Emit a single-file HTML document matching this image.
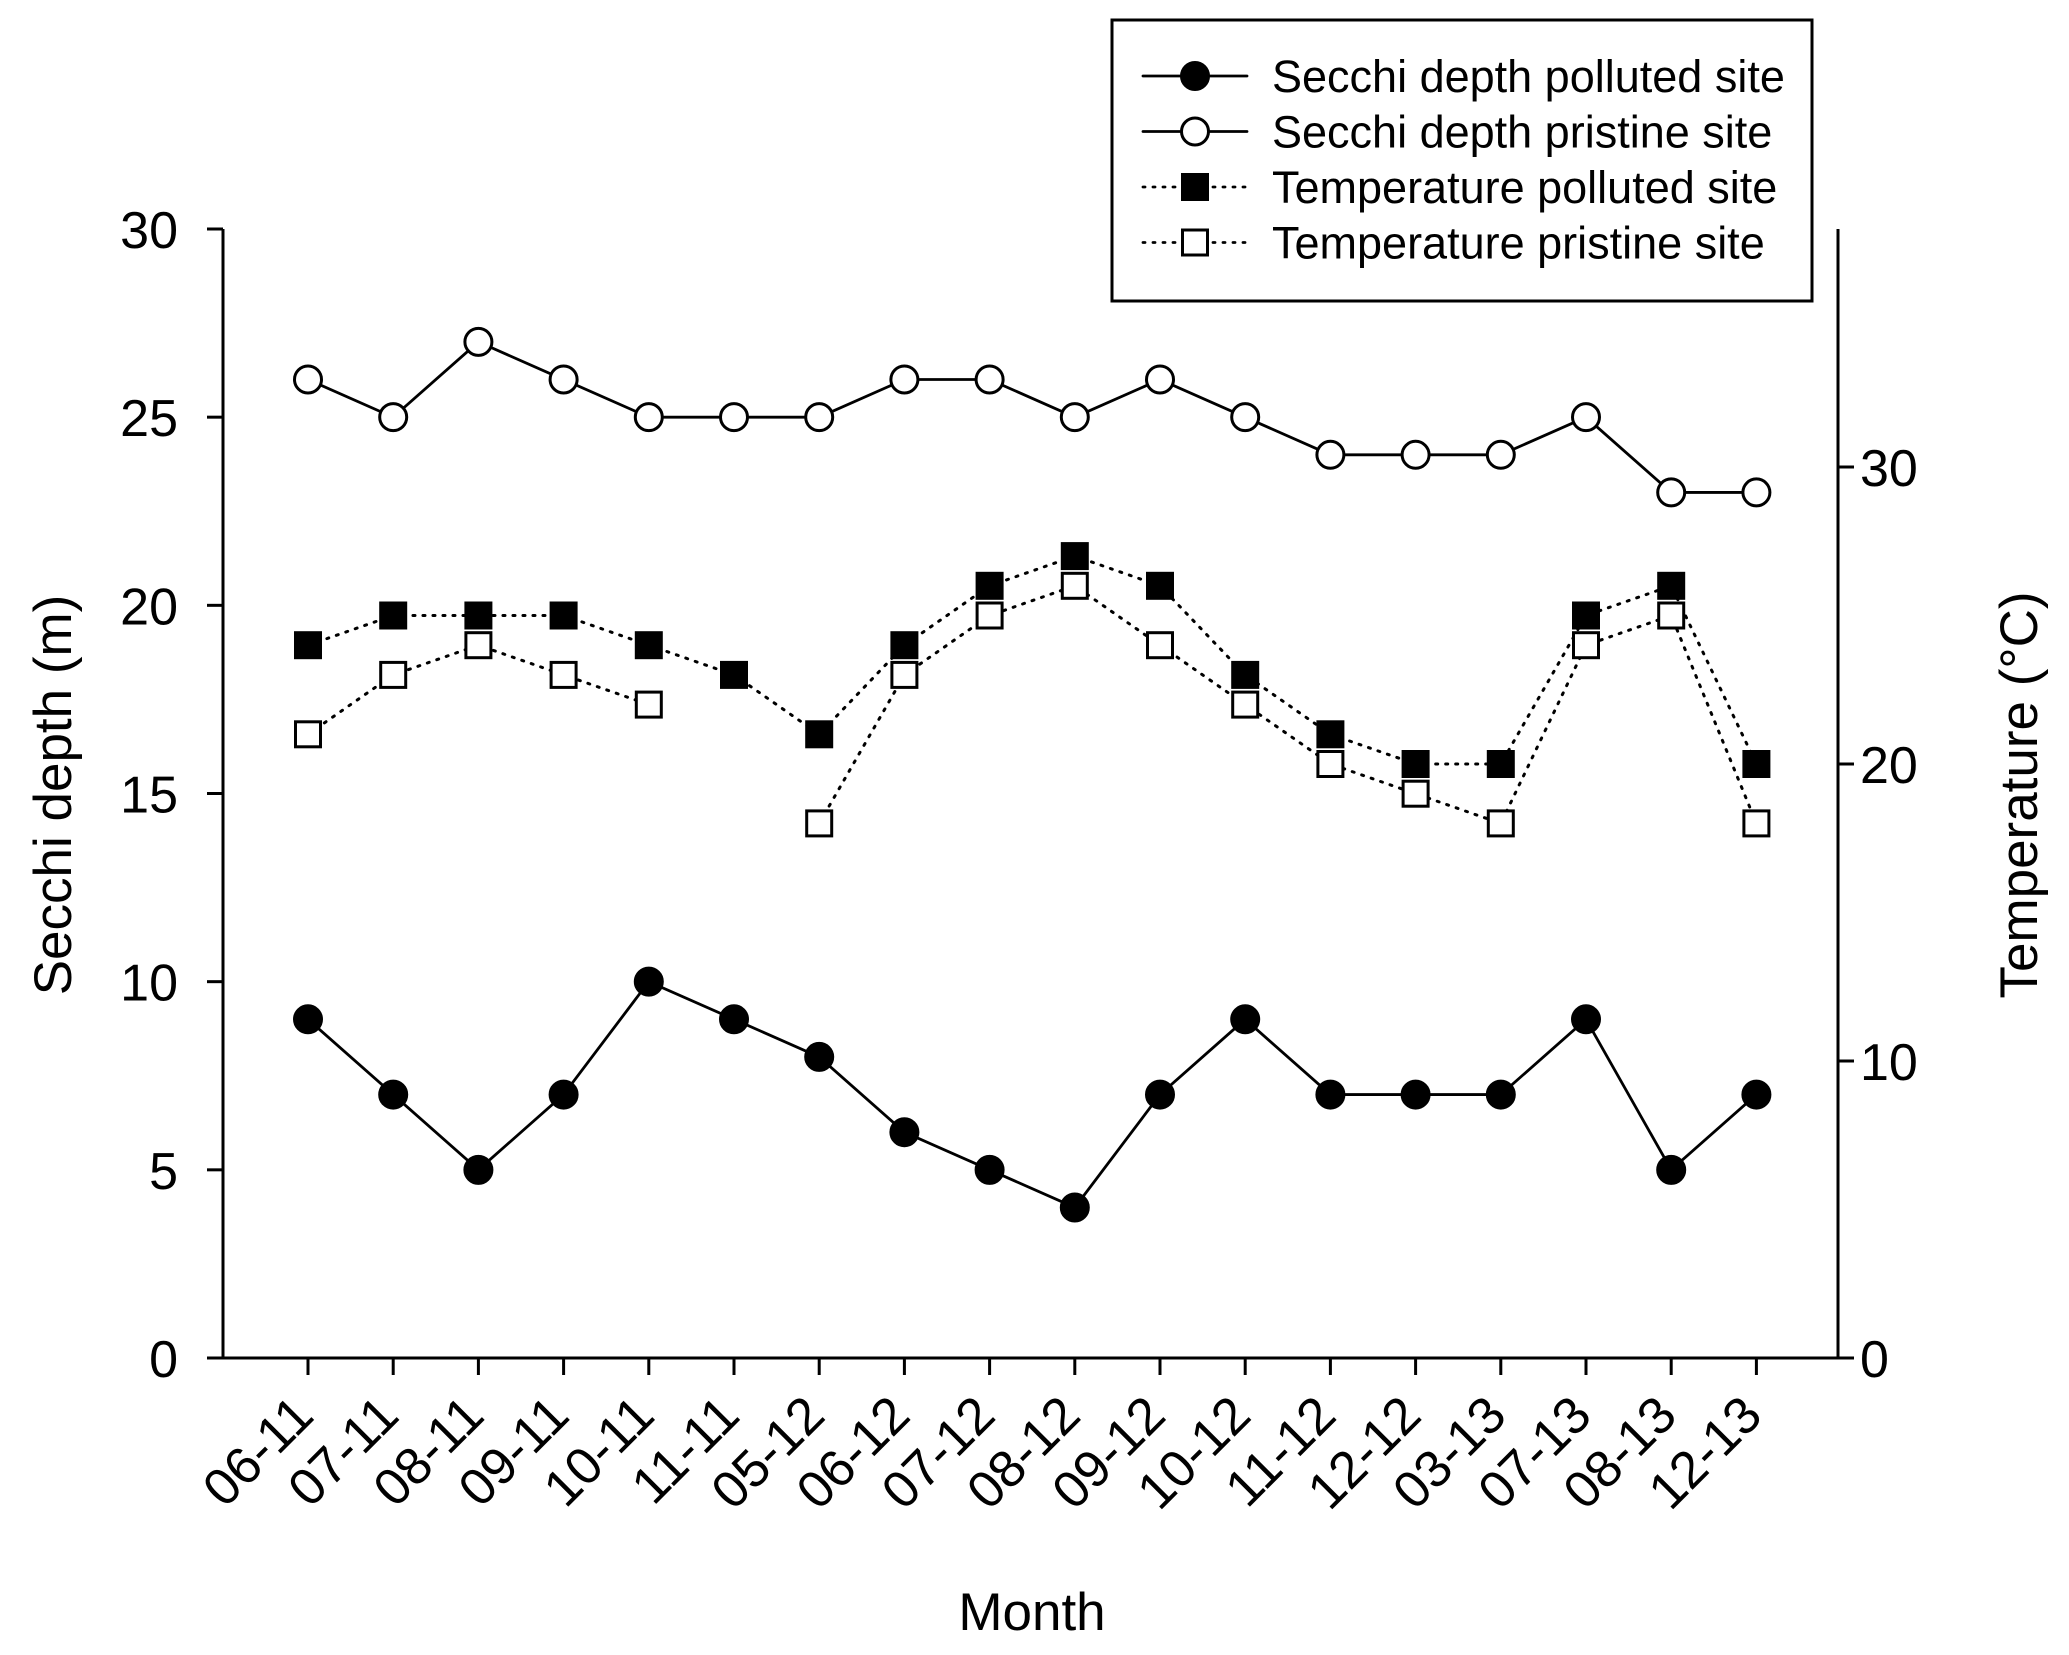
<!DOCTYPE html>
<html><head><meta charset="utf-8"><style>
html,body{margin:0;padding:0;background:#fff;}
svg{display:block;font-family:"Liberation Sans",Arial,sans-serif;}
</style></head><body>
<svg id="chart" width="2069" height="1655" viewBox="0 0 2069 1655" xmlns="http://www.w3.org/2000/svg">
<rect width="2069" height="1655" fill="#fff"/>
<g id="axes"></g>
<g id="series"></g>
<g id="legend">
  <rect x="1112" y="20" width="700" height="281" fill="#fff" stroke="#000" stroke-width="3"/>
</g>
</svg>
<script>
const categories = ["06-11","07-11","08-11","09-11","10-11","11-11","05-12","06-12","07-12","08-12","09-12","10-12","11-12","12-12","03-13","07-13","08-13","12-13"];
const secchiPolluted = [9,7,5,7,10,9,8,6,5,4,7,9,7,7,7,9,5,7];
const secchiPristine = [26,25,27,26,25,25,25,26,26,25,26,25,24,24,24,25,23,23];
const tempPolluted = [24,25,25,25,24,23,21,24,26,27,26,23,21,20,20,25,26,20];
const tempPristine = [21,23,24,23,22,null,18,23,25,26,24,22,20,19,18,24,25,18];
const leftTicks = [0,5,10,15,20,25,30];
const rightTicks = [0,10,20,30];
const legendLabels = ["Secchi depth polluted site","Secchi depth pristine site","Temperature polluted site","Temperature pristine site"];

const NS="http://www.w3.org/2000/svg";
const X0=223, X1=1838, YB=1358, YT=229;
const xPos=i=>308+i*85.2;
const yL=v=>YB-(v/30)*(YB-YT);
const yR=v=>YB-v*29.7;
function mk(tag,attrs,parent){const e=document.createElementNS(NS,tag);for(const k in attrs)e.setAttribute(k,attrs[k]);parent.appendChild(e);return e;}
const axes=document.getElementById('axes'), series=document.getElementById('series'), legend=document.getElementById('legend');

let a=mk('line',{x1:X0,y1:YT,x2:X0,y2:YB,stroke:'#000','stroke-width':3},axes);


a=mk('line',{x1:X1,y1:YT,x2:X1,y2:YB,stroke:'#000','stroke-width':3},axes);


a=mk('line',{x1:208,y1:YB,x2:X1,y2:YB,stroke:'#000','stroke-width':3},axes);



leftTicks.forEach(v=>{
  const y=yL(v);
  mk('line',{x1:X0-16,y1:y,x2:X0,y2:y,stroke:'#000','stroke-width':3},axes);
  const t=mk('text',{x:178,y:y+19,'text-anchor':'end','font-size':52},axes);
  t.textContent=v;
  
  
});
rightTicks.forEach(v=>{
  const y=yR(v);
  mk('line',{x1:X1,y1:y,x2:X1+16,y2:y,stroke:'#000','stroke-width':3},axes);
  const t=mk('text',{x:1860,y:y+19,'text-anchor':'start','font-size':52},axes);
  t.textContent=v;
  
  
});
categories.forEach((c,i)=>{
  const x=xPos(i);
  mk('line',{x1:x,y1:YB,x2:x,y2:YB+17,stroke:'#000','stroke-width':3},axes);
  const t=mk('text',{x:x+8,y:1418,'text-anchor':'end','font-size':52,transform:`rotate(-45 ${x+8} 1418)`},axes);
  t.textContent=c;
  
  
});
let t=mk('text',{x:1032,y:1630,'text-anchor':'middle','font-size':53},axes);
t.textContent='Month';


t=mk('text',{x:71,y:795,'text-anchor':'middle','font-size':53,transform:'rotate(-90 71 795)'},axes);
t.textContent='Secchi depth (m)';


t=mk('text',{x:2037,y:795,'text-anchor':'middle','font-size':53,transform:'rotate(-90 2037 795)'},axes);
t.textContent='Temperature (°C)';



function drawLine(vals,yf,dotted,name){
  let segs=[],cur=[];
  vals.forEach((v,i)=>{if(v===null){if(cur.length)segs.push(cur);cur=[];}else cur.push([xPos(i),yf(v)]);});
  if(cur.length)segs.push(cur);
  segs.forEach(s=>{
    const p=mk('polyline',{points:s.map(q=>q.join(',')).join(' '),fill:'none',stroke:'#000','stroke-width':dotted?3:2.8,'stroke-dasharray':dotted?'2 8':'none','stroke-linecap':'round'},series);
    
    
  });
}
function marker(kind,x,y,parent){
  let m;
  if(kind==='circle'||kind==='ocircle') m=mk('circle',{cx:x,cy:y,r:13.5,fill:kind==='circle'?'#000':'#fff',stroke:'#000','stroke-width':3},parent);
  else m=mk('rect',{x:x-12.5,y:y-12.5,width:25,height:25,fill:kind==='square'?'#000':'#fff',stroke:'#000','stroke-width':3},parent);
  return m;
}
drawLine(tempPristine,yR,true,'temperature-pristine');
drawLine(tempPolluted,yR,true,'temperature-polluted');
drawLine(secchiPristine,yL,false,'secchi-pristine');
drawLine(secchiPolluted,yL,false,'secchi-polluted');
tempPristine.forEach((v,i)=>{if(v===null)return;const m=marker('osquare',xPos(i),yR(v),series);
  
  });
tempPolluted.forEach((v,i)=>{const m=marker('square',xPos(i),yR(v),series);
  
  });
secchiPristine.forEach((v,i)=>{const m=marker('ocircle',xPos(i),yL(v),series);
  
  });
secchiPolluted.forEach((v,i)=>{const m=marker('circle',xPos(i),yL(v),series);
  
  });

const kinds=['circle','ocircle','square','osquare'];
legendLabels.forEach((lab,i)=>{
  const y=76+i*55.5;
  const g=mk('g',{},legend);
  
  
  mk('line',{x1:1143,y1:y,x2:1247,y2:y,stroke:'#000','stroke-width':2.8,'stroke-dasharray':i>1?'2 8':'none','stroke-linecap':'round'},g);
  marker(kinds[i],1195,y,g);
  const tx=mk('text',{x:1272,y:y+16,'font-size':45},g);
  tx.textContent=lab;
});
</script>
</body></html>
